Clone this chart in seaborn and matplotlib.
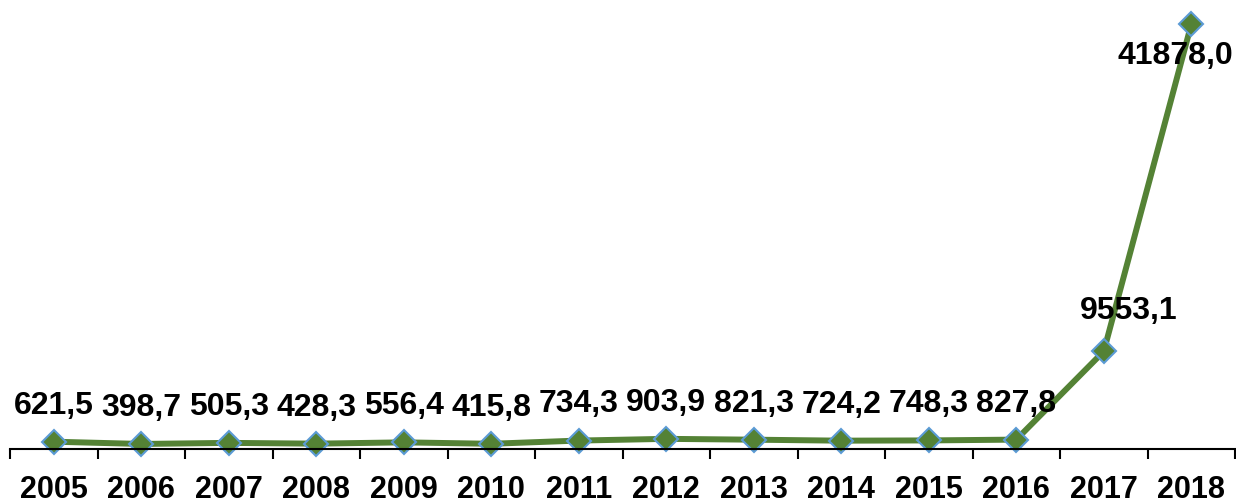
import matplotlib
matplotlib.use("Agg")
import matplotlib.pyplot as plt
import seaborn as sns
import numpy as np

years = ["2005", "2006", "2007", "2008", "2009", "2010", "2011",
         "2012", "2013", "2014", "2015", "2016", "2017", "2018"]
values = [621.5, 398.7, 505.3, 428.3, 556.4, 415.8, 734.3,
          903.9, 821.3, 724.2, 748.3, 827.8, 9553.1, 41878.0]
labels = ["621,5", "398,7", "505,3", "428,3", "556,4", "415,8", "734,3",
          "903,9", "821,3", "724,2", "748,3", "827,8", "9553,1", "41878,0"]

sns.set_style("white")
plt.rcParams['font.family'] = ['Liberation Sans', 'DejaVu Sans']
plt.rcParams['text.color'] = 'black'
plt.rcParams['xtick.color'] = 'black'

fig = plt.figure(figsize=(12.36, 5.03), dpi=100)
ax = fig.add_axes([10 / 1236, 54 / 503, 1225 / 1236, 449 / 503])

pos = np.arange(len(years))
sns.lineplot(x=pos, y=values, ax=ax, color='#548235', linewidth=4.3,
             marker='D', markersize=12, markerfacecolor='#548235',
             markeredgecolor='#5B9BD5', markeredgewidth=1.5, clip_on=False)

# data labels, excel style
for i, (v, lab) in enumerate(zip(values, labels)):
    off = (0, 26)
    if i == 12:
        off = (18, 29)
    elif i == 13:
        off = (-11.5, -23)
    ax.annotate(lab, (i, v), xytext=off, textcoords='offset points',
                ha='center', va='center', fontsize=23, fontweight='bold',
                color='black')

ax.set_xlim(-0.5, len(years) - 0.5)
ax.set_ylim(-100, 44300)
ax.set_xticks(pos)
ax.set_xticklabels(years, fontsize=22, fontweight='bold', color='black')
ax.set_xticks(np.arange(len(years) + 1) - 0.5, minor=True)
ax.tick_params(axis='x', which='major', bottom=False, length=0, pad=19)
ax.tick_params(axis='x', which='minor', bottom=True, length=7, width=1.5,
               color='black', direction='out')
ax.set_yticks([])
for s in ['top', 'right', 'left']:
    ax.spines[s].set_visible(False)
ax.spines['bottom'].set_color('black')
ax.spines['bottom'].set_linewidth(1.5)

fig.savefig("out.png", dpi=100)
